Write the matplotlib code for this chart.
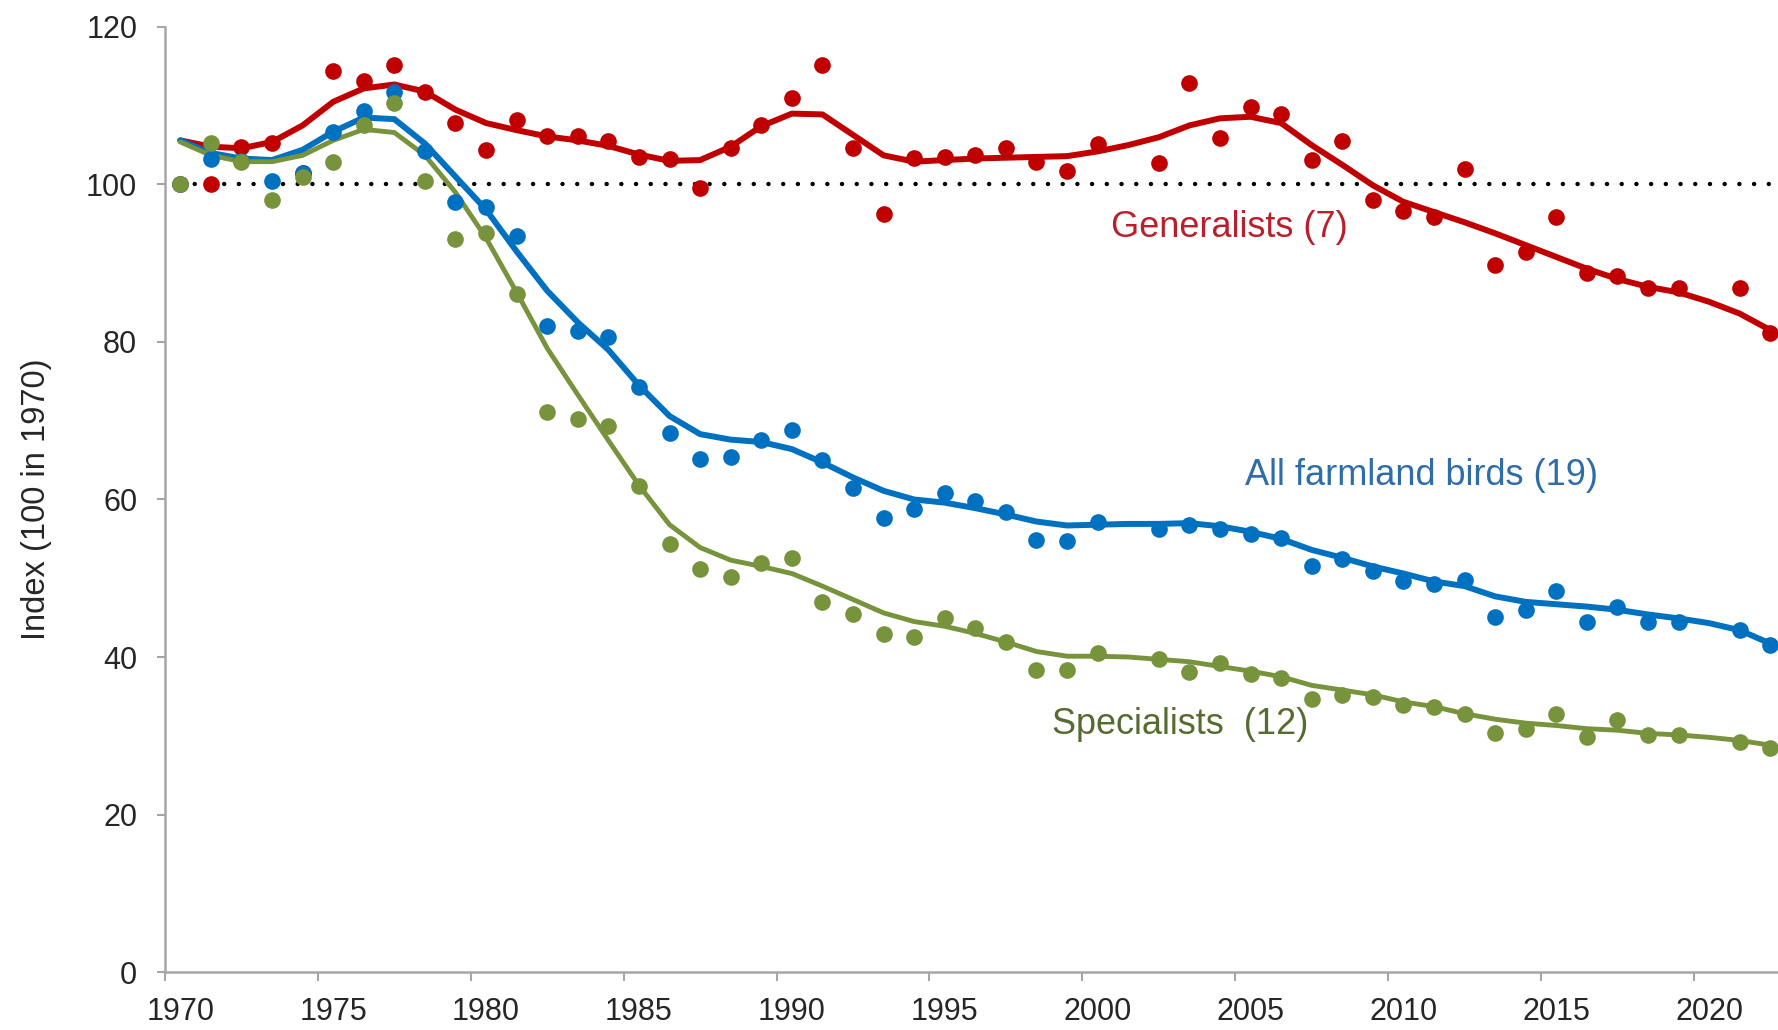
import matplotlib
matplotlib.use("Agg")
import matplotlib.pyplot as plt
from matplotlib.ticker import FixedLocator

plt.rcParams['font.family'] = ['Liberation Sans', 'DejaVu Sans']

# years with a trend value; no survey points in 2001 and 2020
years = list(range(1970, 2023))
point_years = [y for y in years if y not in (2001, 2020)]

generalists = [100, 100.1, 104.8, 105.3, 101.5, 114.4, 113.1, 115.2, 111.8, 107.8,
               104.4, 108.2, 106.1, 106.1, 105.5, 103.5, 103.3, 99.5, 104.6, 107.6,
               111.0, 115.2, 104.6, 96.3, 103.4, 103.5, 103.8, 104.6, 102.9, 101.7,
               105.1, 102.7, 112.9, 105.9, 109.9, 109.0, 103.1, 105.5, 98.0,
               96.6, 95.9, 102.0, 89.8, 91.4, 95.9, 88.7, 88.4, 86.8, 86.8,
               86.8, 81.2]
farmland = [100, 103.3, 103.0, 100.5, 101.5, 106.7, 109.3, 111.8, 104.2, 97.8,
            97.2, 93.4, 82.0, 81.4, 80.6, 74.3, 68.5, 65.1, 65.4, 67.6,
            68.8, 65.0, 61.5, 57.7, 58.8, 60.8, 59.8, 58.4, 54.9, 54.7,
            57.2, 56.2, 56.7, 56.3, 55.6, 55.1, 51.5, 52.4, 50.9,
            49.6, 49.3, 49.8, 45.1, 46.0, 48.4, 44.4, 46.3, 44.4, 44.4,
            43.4, 41.5]
specialists = [100, 105.3, 102.9, 98.0, 101.0, 102.9, 107.5, 110.4, 100.4, 93.1,
               93.8, 86.1, 71.1, 70.2, 69.3, 61.7, 54.4, 51.2, 50.2, 52.0,
               52.6, 47.0, 45.4, 42.9, 42.6, 44.9, 43.7, 41.9, 38.4, 38.4,
               40.5, 39.7, 38.1, 39.2, 37.8, 37.3, 34.7, 35.2, 34.9,
               33.9, 33.7, 32.8, 30.3, 30.9, 32.8, 29.8, 32.0, 30.1, 30.1,
               29.2, 28.4]

generalists_trend = [105.6, 104.8, 104.6, 105.4, 107.5, 110.5, 112.2, 112.7, 111.8, 109.5,
                     107.8, 106.9, 106.1, 105.6, 104.9, 103.8, 103.0, 103.1, 104.8, 107.4,
                     109.0, 108.9, 106.3, 103.7, 102.9, 103.1, 103.3, 103.4, 103.5, 103.6,
                     104.2, 105.0, 106.0, 107.5, 108.4, 108.6, 107.8, 105.0, 102.5, 99.9,
                     97.8, 96.5, 95.2, 93.8, 92.3, 90.8, 89.3, 88.0, 87.0, 86.3,
                     85.1, 83.6, 81.5]
farmland_trend = [105.6, 104.0, 103.3, 103.1, 104.4, 106.7, 108.5, 108.3, 105.2, 101.0,
                  96.8, 91.5, 86.5, 82.5, 79.0, 74.5, 70.6, 68.3, 67.6, 67.3,
                  66.4, 64.7, 62.8, 61.1, 60.0, 59.6, 58.9, 58.1, 57.2, 56.7,
                  56.8, 56.9, 56.9, 57.0, 56.6, 55.9, 55.0, 53.6, 52.6, 51.5,
                  50.6, 49.6, 49.0, 47.7, 47.0, 46.7, 46.4, 46.0, 45.4, 44.9,
                  44.3, 43.4, 41.7]
specialists_trend = [105.4, 103.7, 102.9, 102.9, 103.7, 105.6, 107.0, 106.6, 103.7, 99.0,
                     93.2, 86.3, 79.2, 73.3, 67.5, 61.8, 56.8, 53.9, 52.3, 51.5,
                     50.6, 49.0, 47.3, 45.6, 44.5, 43.9, 43.0, 41.9, 40.7, 40.1,
                     40.1, 40.0, 39.7, 39.4, 38.8, 38.2, 37.5, 36.4, 35.8, 35.2,
                     34.3, 33.7, 32.8, 32.1, 31.6, 31.3, 30.9, 30.7, 30.3, 30.1,
                     29.8, 29.4, 28.8]

baseline = 100
tick_years = list(range(1970, 2021, 5))

red = '#C00000'
blue = '#0070C0'
green = '#77933C'

fig = plt.figure(figsize=(17.78, 10.30), dpi=100)
ax = fig.add_axes([0.0928, 0.0563, 1.0 - 0.0928, 0.9738 - 0.0563])

xmax = 2022.25
ax.hlines(baseline, years[0], xmax, colors='black', linewidth=3.2,
          linestyles=(0, (0.01, 3.3)), capstyle='round', zorder=1)

series = [
    (generalists, generalists_trend, red, 4.3),
    (farmland, farmland_trend, blue, 4.3),
    (specialists, specialists_trend, green, 3.5),
]
for pts, trend, col, lw in series:
    ax.plot(years, trend, color=col, linewidth=lw, solid_capstyle='round',
            solid_joinstyle='round', zorder=2)
for pts, trend, col, lw in series:
    ax.plot(point_years, pts, 'o', color=col, markersize=12, markeredgewidth=0, zorder=3)

ax.text(2004.3, 94.6, 'Generalists (7)', color='#B8202E', fontsize=26, ha='center', va='center')
ax.text(2010.6, 63.0, 'All farmland birds (19)', color='#2E6DA8', fontsize=26, ha='center', va='center')
ax.text(2002.7, 31.4, 'Specialists  (12)', color='#566B30', fontsize=26, ha='center', va='center')

ax.set_xlim(1969.5, xmax)
ax.set_ylim(0, 120)
ax.set_yticks(range(0, 121, 20))
ax.xaxis.set_major_locator(FixedLocator(tick_years))
ax.xaxis.set_minor_locator(FixedLocator([y - 0.5 for y in tick_years]))

for s in ['top', 'right']:
    ax.spines[s].set_visible(False)
for s in ['left', 'bottom']:
    ax.spines[s].set_color('#A6A6A6')
    ax.spines[s].set_linewidth(1.8)

ax.tick_params(axis='y', direction='out', length=6, width=1.5, color='#A6A6A6',
               labelsize=22, labelcolor='#262626', pad=14)
ax.tick_params(axis='x', which='major', length=0, labelsize=22, labelcolor='#262626', pad=18)
ax.tick_params(axis='x', which='minor', direction='out', length=6.5, width=1.5, color='#A6A6A6')

ax.set_ylabel('Index (100 in 1970)', fontsize=23.5, color='#262626')
ax.yaxis.label.set_verticalalignment('center')
ax.yaxis.set_label_coords(-0.0794, 0.5)

fig.savefig('out.png', dpi=100)
